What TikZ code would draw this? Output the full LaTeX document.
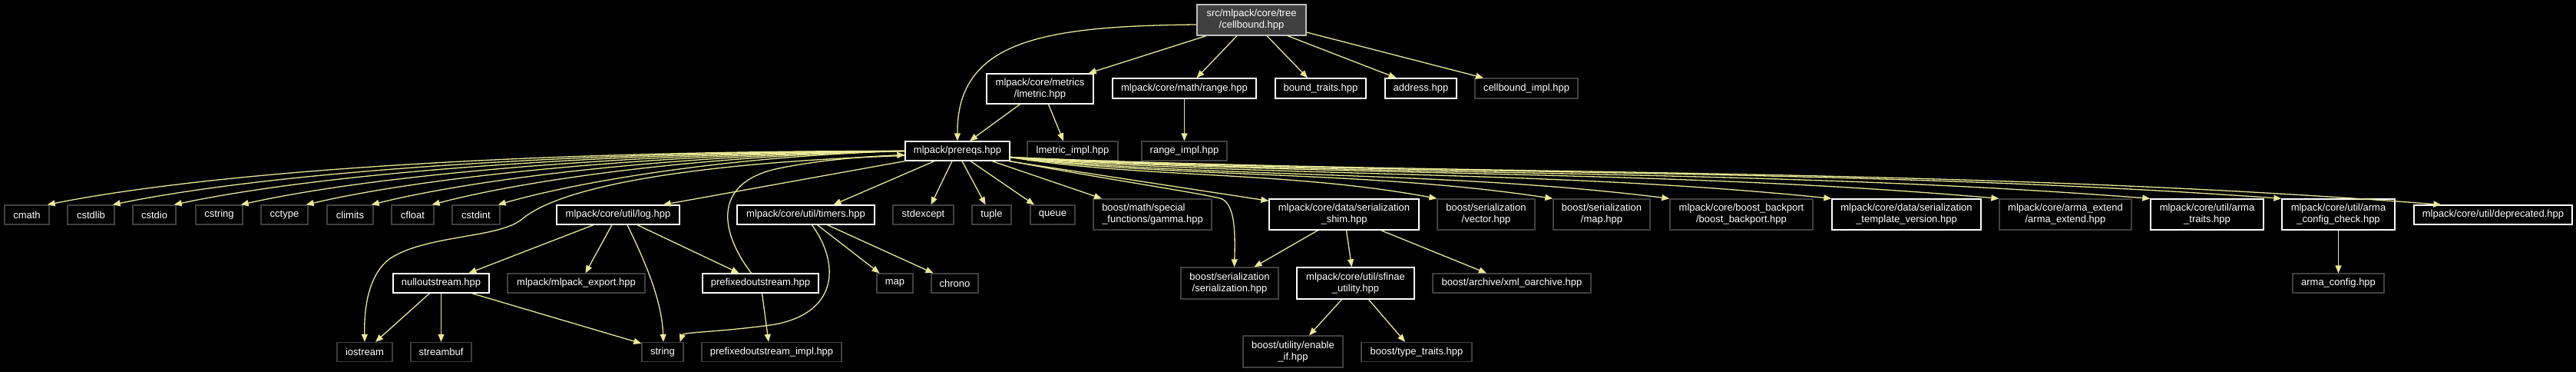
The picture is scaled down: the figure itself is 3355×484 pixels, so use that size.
\documentclass[tikz,border=0pt]{standalone}
\usepackage{fontspec}
\setmainfont{Liberation Sans}
\usetikzlibrary{arrows.meta}
\definecolor{edgec}{RGB}{232,232,150}
\definecolor{boxgray}{RGB}{64,64,64}
\definecolor{rootfill}{RGB}{64,64,64}
\definecolor{rootdraw}{RGB}{191,191,191}
\tikzset{
  box/.style={draw=boxgray, fill=black, text=white, line width=1.3pt, inner xsep=4pt, inner ysep=0pt,
    align=center, font=\fontsize{13}{15}\selectfont, minimum height=25pt},
  lnk/.style={box, draw=white},
  two/.style={minimum height=40pt},
  edge/.style={draw=edgec, line width=1.3pt, -{Triangle[length=10pt,width=8pt]}},
}
\begin{document}
\begin{tikzpicture}[x=1pt,y=-1pt]
\fill[black] (0,0) rectangle (3355,484);
\useasboundingbox (0,0) rectangle (3355,484);
% rank 0
\node[box, two, draw=rootdraw, fill=rootfill, minimum width=142pt] (root) at (1630,26) {src/mlpack/core/tree\\/cellbound.hpp};
% rank 1
\node[lnk, minimum width=139pt, minimum height=39pt] (lmetric) at (1354.5,115.5) {mlpack/core/metrics\\/lmetric.hpp};
\node[lnk, minimum width=187pt, minimum height=26pt] (range) at (1542.5,115) {mlpack/core/math/range.hpp};
\node[lnk, minimum width=118pt, minimum height=26pt] (boundtraits) at (1720,115) {bound\_traits.hpp};
\node[lnk, minimum width=93pt, minimum height=26pt] (address) at (1850.5,115) {address.hpp};
\node[box, minimum width=134pt, minimum height=26pt] (cbimpl) at (1988,115) {cellbound\_impl.hpp};
% rank 2
\node[lnk, minimum width=136pt] (prereqs) at (1247,196.5) {mlpack/prereqs.hpp};
\node[box, minimum width=118pt] (lmimpl) at (1397,196.5) {lmetric\_impl.hpp};
\node[box, minimum width=111pt] (rimpl) at (1542.5,196.5) {range\_impl.hpp};
% rank 3
\node[box, minimum width=58pt] (cmath) at (35,279.5) {cmath};
\node[box, minimum width=61pt] (cstdlib) at (118.5,279.5) {cstdlib};
\node[box, minimum width=56pt] (cstdio) at (201,279.5) {cstdio};
\node[box, minimum width=61pt] (cstring) at (285.5,279.5) {cstring};
\node[box, minimum width=61pt] (cctype) at (370.5,279.5) {cctype};
\node[box, minimum width=60pt] (climits) at (456,279.5) {climits};
\node[box, minimum width=55pt] (cfloat) at (537.5,279.5) {cfloat};
\node[box, minimum width=62pt] (cstdint) at (620,279.5) {cstdint};
\node[lnk, minimum width=160pt] (log) at (805,279.5) {mlpack/core/util/log.hpp};
\node[lnk, minimum width=179pt] (timers) at (1049.5,279.5) {mlpack/core/util/timers.hpp};
\node[box, minimum width=79pt] (stdexcept) at (1202.5,279.5) {stdexcept};
\node[box, minimum width=51pt] (tuple) at (1291.5,279.5) {tuple};
\node[box, minimum width=58pt] (queue) at (1371,279.5) {queue};
\node[box, two, minimum width=154pt, align=left] (gamma) at (1501,279) {boost/math/special\\\_functions/gamma.hpp};
\node[lnk, two, minimum width=195pt] (shim) at (1750.5,279) {mlpack/core/data/serialization\\\_shim.hpp};
\node[box, two, minimum width=127pt] (vector) at (1935.5,279) {boost/serialization\\/vector.hpp};
\node[box, two, minimum width=126pt] (maphpp) at (2086,279) {boost/serialization\\/map.hpp};
\node[box, two, minimum width=186pt] (backport) at (2268,279) {mlpack/core/boost\_backport\\/boost\_backport.hpp};
\node[lnk, two, minimum width=194pt] (tplver) at (2483,279) {mlpack/core/data/serialization\\\_template\_version.hpp};
\node[box, two, minimum width=172pt] (armaext) at (2690,279) {mlpack/core/arma\_extend\\/arma\_extend.hpp};
\node[lnk, two, minimum width=147pt] (armatraits) at (2874.5,279) {mlpack/core/util/arma\\\_traits.hpp};
\node[lnk, two, minimum width=147pt] (armacc) at (3045.5,279) {mlpack/core/util/arma\\\_config\_check.hpp};
\node[lnk, minimum width=206pt] (deprecated) at (3247,279.5) {mlpack/core/util/deprecated.hpp};
% rank 4
\node[lnk, minimum width=125pt] (nullos) at (574.5,368.5) {nulloutstream.hpp};
\node[box, minimum width=179pt] (mlexport) at (750.5,368.5) {mlpack/mlpack\_export.hpp};
\node[lnk, minimum width=151pt] (prefos) at (990.5,368.5) {prefixedoutstream.hpp};
\node[box, minimum width=47pt] (map) at (1165.5,368.5) {map};
\node[box, minimum width=61pt] (chrono) at (1243.5,368.5) {chrono};
\node[box, two, minimum width=127pt, minimum height=41pt] (serial) at (1601.5,368.5) {boost/serialization\\/serialization.hpp};
\node[lnk, two, minimum width=153pt, minimum height=41pt] (sfinae) at (1765.5,368.5) {mlpack/core/util/sfinae\\\_utility.hpp};
\node[box, minimum width=206pt] (xmloa) at (1969,368.5) {boost/archive/xml\_oarchive.hpp};
\node[box, minimum width=119pt] (armacfg) at (3045.5,368.5) {arma\_config.hpp};
% rank 5
\node[box, minimum width=72pt] (iostream) at (475,458) {iostream};
\node[box, minimum width=79pt] (streambuf) at (574.5,458) {streambuf};
\node[box, minimum width=54pt] (string) at (863,458) {string};
\node[box, minimum width=182pt] (prefimpl) at (1005,458) {prefixedoutstream\_impl.hpp};
\node[box, two, minimum width=130pt, minimum height=41pt] (enableif) at (1684,457.5) {boost/utility/enable\\\_if.hpp};
\node[box, minimum width=144pt] (typetraits) at (1845,458) {boost/type\_traits.hpp};

% ---- edges from root
\draw[edge] ([yshift=-6pt]root.west) .. controls (1360,34) and (1246,52) .. (prereqs.north);
\draw[edge] ([xshift=-59pt]root.south) -- ([xshift=-7pt]lmetric.north east);
\draw[edge] ([xshift=-19pt]root.south) -- ([xshift=16pt]range.north);
\draw[edge] ([xshift=20pt]root.south) -- ([xshift=-17pt]boundtraits.north);
\draw[edge] ([xshift=47pt]root.south) -- ([xshift=-32pt]address.north);
\draw[edge] ([yshift=-16pt]root.east) -- ([xshift=-56pt]cbimpl.north);
% lmetric, range
\draw[edge] ([xshift=-26pt]lmetric.south) -- ([xshift=16pt]prereqs.north);
\draw[edge] ([xshift=11pt]lmetric.south) -- ([xshift=-12pt]lmimpl.north);
\draw[edge] (range.south) -- (rimpl.north);
% prereqs fan to the left
\draw[edge] (prereqs.west) .. controls (698,196) and (285,222) .. ([xshift=-3pt]cmath.north east);
\draw[edge] (prereqs.west) .. controls (735,197) and (353,224) .. ([xshift=-3pt]cstdlib.north east);
\draw[edge] (prereqs.west) .. controls (769,198) and (417,226) .. ([xshift=-3pt]cstdio.north east);
\draw[edge] (prereqs.west) .. controls (807,199) and (486,228) .. ([xshift=-3pt]cstring.north east);
\draw[edge] (prereqs.west) .. controls (843,200) and (554,230) .. ([xshift=-3pt]cctype.north east);
\draw[edge] (prereqs.west) .. controls (880,201) and (622,232) .. ([xshift=-3pt]climits.north east);
\draw[edge] (prereqs.west) .. controls (914,202) and (685,234) .. ([xshift=-3pt]cfloat.north east);
\draw[edge] (prereqs.west) .. controls (951,203) and (754,236) .. ([xshift=-3pt]cstdint.north east);
\draw[edge] (prereqs.south west) -- ([xshift=-22pt]log.north east);
\draw[edge] ([yshift=-6pt]prereqs.west) .. controls (950,210) and (740,235) .. (680,285)
  .. controls (650,310) and (560,305) .. (510,335) .. controls (480,355) and (474,400) .. (iostream.north);
\draw[edge] ([xshift=-30pt]prereqs.south) -- ([xshift=36pt]timers.north);
\draw[edge] ([xshift=-7pt]prereqs.south) -- ([xshift=10pt]stdexcept.north);
\draw[edge] ([xshift=6pt]prereqs.south) -- ([xshift=-8pt]tuple.north);
\draw[edge] ([xshift=17pt]prereqs.south) -- ([xshift=-24pt]queue.north);
\draw[edge] ([xshift=45pt]prereqs.south) -- ([xshift=-66pt]gamma.north);
\draw[edge] ([xshift=-2pt]prereqs.south east) -- ([yshift=-3pt]shim.north west);
\draw[edge] (prereqs.south east) .. controls (1450,235) and (1570,252) .. (1592,259)
  .. controls (1608,268) and (1609,300) .. ([xshift=6pt]serial.north);
% prereqs fan to the right
\draw[edge] ([yshift=-8pt]prereqs.east) .. controls (1482,232) and (1677,222) .. (vector.north west);
\draw[edge] ([yshift=-8pt]prereqs.east) .. controls (1527,232) and (1775,221) .. (maphpp.north west);
\draw[edge] ([yshift=-8pt]prereqs.east) .. controls (1573,232) and (1874,221) .. (backport.north west);
\draw[edge] ([yshift=-8pt]prereqs.east) .. controls (1636,231) and (2011,220) .. (tplver.north west);
\draw[edge] ([yshift=-8pt]prereqs.east) .. controls (1702,230) and (2153,219) .. (armaext.north west);
\draw[edge] ([yshift=-8pt]prereqs.east) .. controls (1761,230) and (2281,218) .. (armatraits.north west);
\draw[edge] ([yshift=-8pt]prereqs.east) .. controls (1812,229) and (2392,217) .. (armacc.north west);
\draw[edge] ([yshift=-8pt]prereqs.east) .. controls (1875,229) and (2527,216) .. ([xshift=36pt]deprecated.north west);
% log
\draw[edge] ([xshift=-32pt]log.south) -- ([xshift=36pt]nullos.north);
\draw[edge] ([xshift=-8pt]log.south) -- ([xshift=12pt]mlexport.north);
\draw[edge] ([xshift=12pt]log.south) .. controls (840,340) and (862,390) .. ([xshift=1pt]string.north);
\draw[edge] ([xshift=25pt]log.south) -- ([xshift=-28pt]prefos.north);
% prefixedoutstream
\draw[edge] ([xshift=-12pt]prefos.north) .. controls (940,305) and (925,240) .. (1010,220)
  .. controls (1070,207) and (1140,203) .. ([yshift=-5pt]prereqs.west);
\draw[edge] ([xshift=2pt]prefos.south) -- ([xshift=-4pt]prefimpl.north);
% nulloutstream
\draw[edge] ([xshift=-15pt]nullos.south) -- ([xshift=14pt]iostream.north);
\draw[edge] (nullos.south) -- (streambuf.north);
\draw[edge] ([xshift=40pt]nullos.south) -- ([yshift=-2pt]string.north west);
% timers
\draw[edge] ([xshift=15pt]timers.south) -- ([xshift=-20pt]map.north);
\draw[edge] ([xshift=28pt]timers.south) -- ([xshift=-28pt]chrono.north);
\draw[edge] ([xshift=8pt]timers.south) .. controls (1092,340) and (1095,405) .. (1010,422)
  .. controls (940,432) and (890,432) .. ([xshift=-5pt]string.north east);
% serialization shim
\draw[edge] ([xshift=-34pt]shim.south) -- ([xshift=32pt]serial.north);
\draw[edge] ([xshift=3pt]shim.south) -- ([xshift=-5pt]sfinae.north);
\draw[edge] ([xshift=48pt]shim.south) -- ([xshift=-33pt]xmloa.north);
% sfinae
\draw[edge] ([xshift=-18pt]sfinae.south) -- ([xshift=21pt]enableif.north);
\draw[edge] ([xshift=17pt]sfinae.south) -- ([xshift=-15pt]typetraits.north);
% arma config check
\draw[edge] (armacc.south) -- (armacfg.north);
\end{tikzpicture}
\end{document}
